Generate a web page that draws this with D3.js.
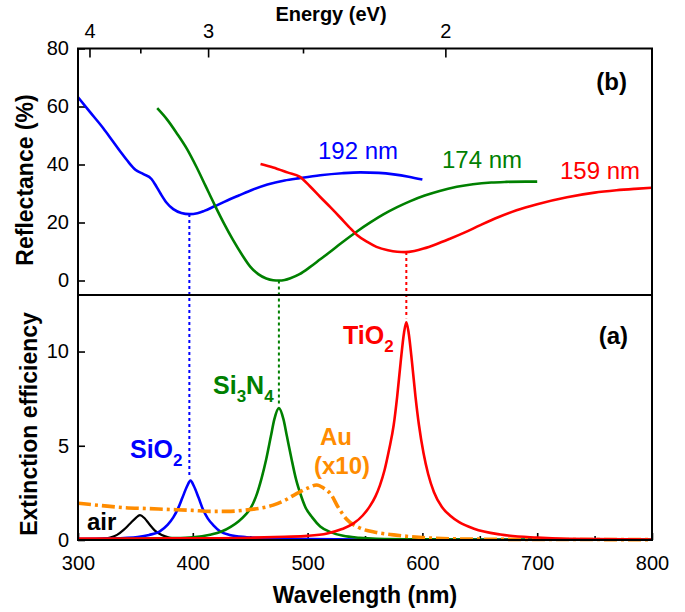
<!DOCTYPE html>
<html><head><meta charset="utf-8">
<script src="https://cdn.jsdelivr.net/npm/d3@7"></script>
<style>
html,body{margin:0;padding:0;background:#fff;}
text{font-family:"Liberation Sans",Arial,sans-serif;}
</style></head>
<body><svg id="c" width="685" height="612"></svg>
<script>
// ---------- DATA ----------
// Top panel (b): reflectance (%) vs wavelength (nm)
const reflBlueWl  = [300,310,322,330,337,344,350,357,364,368,372,377,383,390,397,404,410,419,430,440,452,465,480,493,511,530,546,562,575,588,600];
const reflBlueVal = [63.2,58.3,52.5,48.2,44.4,40.8,38.2,36.7,35.0,32.6,29.9,26.9,24.6,23.3,22.9,23.2,24.0,25.6,27.6,29.3,31.3,33.1,34.5,35.3,36.3,37.0,37.3,37.1,36.6,35.8,34.8];
const reflGreenWl  = [369,378,386,395,403,411,419,427,435,443,450,457,464,470,475,480,485,493,502,511,520,528,543,555,566,578,589,602,615,630,644,660,673,690,700];
const reflGreenVal = [59.4,55.3,50.8,45.3,39.3,32.7,26.1,19.8,14.0,8.8,4.8,2.2,0.7,0.1,0,0.2,0.8,2.2,4.6,7.3,10.0,12.5,16.9,20.1,22.8,25.3,27.3,29.3,30.9,32.3,33.2,33.8,34.0,34.1,34.1];
const reflRedWl  = [459,470,483,493,502,511,520,528,536,543,552,560,570,578,585,593,601,612,624,637,650,666,682,700,726,750,769,785,800];
const reflRedVal = [40.2,39.0,37.2,35.8,32.5,28.8,25.2,21.9,18.5,15.7,13.3,11.6,10.4,9.9,9.8,10.2,11.0,12.5,14.4,16.6,19.0,21.8,24.2,26.3,28.7,30.3,31.1,31.6,32.0];
const reflLabels = ["192 nm","174 nm","159 nm"];

// Bottom panel (a): extinction efficiency vs wavelength (nm)
const airWl  = [300,310,320,328,334,340,345,350,354,358,362,367,373,380,390,400,430,500,800];
const airVal = [0.02,0.03,0.06,0.13,0.27,0.55,0.85,1.15,1.32,1.15,0.85,0.5,0.26,0.12,0.05,0.02,0.01,0,0];
const sio2Wl  = [300,320,340,352,362,371,378,383,387,391,395,398,401,405,409,413,418,424,432,447,470,500,550,600,700,800];
const sio2Val = [0.05,0.07,0.11,0.16,0.27,0.45,0.8,1.2,1.65,2.25,2.85,3.15,2.85,2.25,1.6,1.15,0.78,0.45,0.27,0.15,0.08,0.05,0.03,0.02,0.01,0.01];
const si3n4Wl  = [300,350,380,400,415,425,433,440,446,450,455,460,464,468,471,475,479,482,486,490,494,498,504,511,520,531,545,560,600,700,800];
const si3n4Val = [0.03,0.07,0.1,0.15,0.28,0.45,0.7,1.0,1.35,1.65,2.3,3.3,4.3,5.5,6.4,7.0,6.4,5.5,4.3,3.2,2.4,1.75,1.2,0.72,0.42,0.22,0.12,0.07,0.04,0.02,0.01];
const tio2Wl  = [300,350,400,450,480,500,517,530,540,548,554,559,563,567,571,575,578,581,584,586,588,591,594,597,601,605,610,617,624,632,645,668,700,726,800];
const tio2Val = [0.08,0.08,0.09,0.12,0.17,0.22,0.35,0.58,0.88,1.3,1.77,2.3,2.9,3.7,4.8,6.1,7.6,9.4,11.0,11.55,11.0,9.4,7.6,6.1,4.6,3.5,2.55,1.75,1.3,0.95,0.6,0.29,0.13,0.07,0.03];
const auWl  = [300,320,340,360,380,400,415,430,445,458,470,480,490,500,508,514,520,527,534,545,560,575,600,640,700,800];
const auVal = [1.95,1.83,1.72,1.67,1.62,1.57,1.52,1.52,1.58,1.68,1.85,2.1,2.45,2.75,2.92,2.75,2.45,1.7,1.1,0.65,0.4,0.27,0.13,0.05,0.03,0.02];

// Dotted connectors: reflectance minimum -> extinction peak
const markerWl      = [397, 475, 586];
const markerReflMin = [22.9, 0, 9.8];
const markerExtPeak = [3.15, 7.0, 11.55];

// Ticks
const wlTicks      = [300,400,500,600,700,800];
const wlMinorTicks = [350,450,550,650,750];
const energyTicks  = [4,3,2];
const energyMinor  = [3.5,2.5];
const reflTicks    = [0,20,40,60,80];
const extTicks     = [0,5,10];

// ---------- STYLE ----------
const BLUE="#0000ff", GREEN="#008000", RED="#ff0000", ORANGE="#ff8c00", BLACK="#000";

const svg = d3.select("#c");
const x  = d3.scaleLinear().domain([300,800]).range([78,652]);
const yR = d3.scaleLinear().domain([-5,80]).range([295,48.5]);
const yE = d3.scaleLinear().domain([0,13]).range([540,295]);

function pts(wl, v){ return wl.map((w,i)=>[w, v[i]]); }
const lineR = d3.line().x(d=>x(d[0])).y(d=>yR(d[1])).curve(d3.curveMonotoneX);
const lineE = d3.line().x(d=>x(d[0])).y(d=>yE(d[1])).curve(d3.curveMonotoneX);

function styleAxis(g){
  g.select(".domain").remove();
  g.selectAll(".tick line").attr("stroke","#000").attr("stroke-width",1.6);
  g.selectAll(".tick text").attr("font-size",20).attr("fill","#000").attr("font-family","Liberation Sans, Arial, sans-serif");
}

// Axes
svg.append("g").attr("transform","translate(0,540)")
  .call(d3.axisBottom(x).tickValues(wlTicks).tickFormat(d3.format("d")).tickSizeInner(-7).tickSizeOuter(0).tickPadding(16)).call(styleAxis);
svg.append("g").attr("transform","translate(0,540)")
  .call(d3.axisBottom(x).tickValues(wlMinorTicks).tickFormat("").tickSizeInner(-4).tickSizeOuter(0)).call(styleAxis);
svg.append("g").attr("transform","translate(0,48.5)")
  .call(d3.axisTop(x).tickValues(energyTicks.map(e=>1240/e)).tickFormat(d=>Math.round(1240/d)).tickSizeInner(-9).tickSizeOuter(0).tickPadding(11)).call(styleAxis);
svg.append("g").attr("transform","translate(0,48.5)")
  .call(d3.axisTop(x).tickValues(energyMinor.map(e=>1240/e)).tickFormat("").tickSizeInner(-5).tickSizeOuter(0)).call(styleAxis);
svg.append("g").attr("transform","translate(78,0)")
  .call(d3.axisLeft(yR).tickValues(reflTicks).tickSizeInner(-7).tickSizeOuter(0).tickPadding(9)).call(styleAxis);
svg.append("g").attr("transform","translate(78,0)")
  .call(d3.axisLeft(yE).tickValues(extTicks).tickSizeInner(-7).tickSizeOuter(0).tickPadding(9)).call(styleAxis);

// Dotted connectors
const mColors=[BLUE,GREEN,RED];
markerWl.forEach((w,i)=>{
  svg.append("line").attr("x1",x(w)).attr("x2",x(w))
    .attr("y1",yR(markerReflMin[i])).attr("y2",yE(markerExtPeak[i])-4)
    .attr("stroke",mColors[i]).attr("stroke-width",2).attr("stroke-dasharray","3,3");
});

// Top panel curves
[[reflBlueWl,reflBlueVal,BLUE],[reflGreenWl,reflGreenVal,GREEN],[reflRedWl,reflRedVal,RED]].forEach(s=>{
  svg.append("path").attr("d",lineR(pts(s[0],s[1]))).attr("fill","none").attr("stroke",s[2]).attr("stroke-width",2.6);
});

// Bottom panel curves
svg.append("path").attr("d",lineE(pts(airWl,airVal))).attr("fill","none").attr("stroke",BLACK).attr("stroke-width",2.2);
svg.append("path").attr("d",lineE(pts(sio2Wl,sio2Val))).attr("fill","none").attr("stroke",BLUE).attr("stroke-width",2.6);
svg.append("path").attr("d",lineE(pts(si3n4Wl,si3n4Val))).attr("fill","none").attr("stroke",GREEN).attr("stroke-width",2.6);
svg.append("path").attr("d",lineE(pts(auWl,auVal))).attr("fill","none").attr("stroke",ORANGE).attr("stroke-width",3.6).attr("stroke-dasharray","13,4,3,4");
svg.append("path").attr("d",lineE(pts(tio2Wl,tio2Val))).attr("fill","none").attr("stroke",RED).attr("stroke-width",2.6);

// Frame + divider
svg.append("rect").attr("x",78).attr("y",48.5).attr("width",574).attr("height",491.5)
  .attr("fill","none").attr("stroke","#000").attr("stroke-width",2);
svg.append("line").attr("x1",78).attr("x2",652).attr("y1",yR(-5)).attr("y2",yR(-5)).attr("stroke","#000").attr("stroke-width",2);

// Axis titles
svg.append("text").attr("x",365).attr("y",603).attr("text-anchor","middle").attr("font-size",23).attr("font-weight","bold").text("Wavelength (nm)");
svg.append("text").attr("x",331).attr("y",21).attr("text-anchor","middle").attr("font-size",20).attr("font-weight","bold").text("Energy (eV)");
svg.append("text").attr("transform","translate(33,180) rotate(-90)").attr("text-anchor","middle").attr("font-size",23).attr("font-weight","bold").text("Reflectance (%)");
svg.append("text").attr("transform","translate(37,424) rotate(-90)").attr("text-anchor","middle").attr("font-size",23).attr("font-weight","bold").text("Extinction efficiency");

// Panel labels
svg.append("text").attr("x",627).attr("y",90).attr("text-anchor","end").attr("font-size",24).attr("font-weight","bold").text("(b)");
svg.append("text").attr("x",628).attr("y",344).attr("text-anchor","end").attr("font-size",24).attr("font-weight","bold").text("(a)");

// Thickness labels
const tl=[[318,159,BLUE],[442,168,GREEN],[560,179,RED]];
reflLabels.forEach((t,i)=>svg.append("text").attr("x",tl[i][0]).attr("y",tl[i][1]).attr("font-size",24).attr("fill",tl[i][2]).text(t));

// Material labels
function chem(xp,yp,parts,color){
  const t=svg.append("text").attr("x",xp).attr("y",yp).attr("font-size",25).attr("font-weight","bold").attr("fill",color);
  let sub=false;
  parts.forEach(p=>{
    if(p.sub){ t.append("tspan").attr("dy",8).attr("font-size",17).text(p.s); sub=true; }
    else { t.append("tspan").attr("dy",sub?-8:0).text(p.s); sub=false; }
  });
}
chem(343,344,[{s:"TiO"},{s:"2",sub:true}],RED);
chem(213,394,[{s:"Si"},{s:"3",sub:true},{s:"N"},{s:"4",sub:true}],GREEN);
chem(130,458,[{s:"SiO"},{s:"2",sub:true}],BLUE);
svg.append("text").attr("x",336).attr("y",445).attr("text-anchor","middle").attr("font-size",24).attr("font-weight","bold").attr("fill",ORANGE).text("Au");
svg.append("text").attr("x",342).attr("y",474).attr("text-anchor","middle").attr("font-size",24).attr("font-weight","bold").attr("fill",ORANGE).text("(x10)");
svg.append("text").attr("x",87).attr("y",530).attr("font-size",24).attr("font-weight","bold").attr("fill",BLACK).text("air");
</script></body></html>
